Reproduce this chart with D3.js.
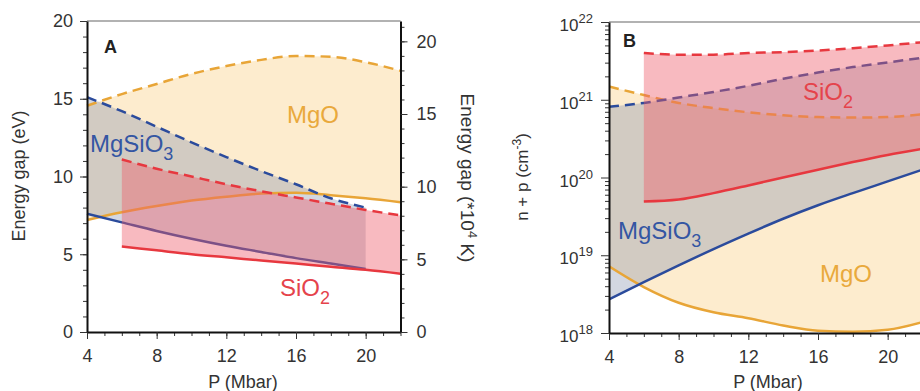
<!DOCTYPE html>
<html>
<head>
<meta charset="utf-8">
<script src="https://cdn.jsdelivr.net/npm/d3@7"></script>
<style>
  body { margin: 0; background: #fff; }
  svg { display: block; font-family: "Liberation Sans", Arial, Helvetica, sans-serif; }
  .tick text { fill: #333; }
</style>
</head>
<body>
<div id="chart"></div>
<script>
// pressure grid (Mbar)
const pFull = [4, 6, 8, 10, 12, 14, 16, 18, 20, 22];
const pMgSiO3A = [4, 6, 8, 10, 12, 14, 16, 18, 20];
const pSiO2 = [6, 8, 10, 12, 14, 16, 18, 20, 22];

// panel A, energy gap (eV)
const mgoGapHi = [14.55, 15.3, 15.95, 16.6, 17.1, 17.5, 17.75, 17.7, 17.35, 16.8];
const mgoGapLo = [7.2, 7.7, 8.1, 8.45, 8.7, 8.9, 8.95, 8.8, 8.6, 8.35];
const mgsGapHi = [15.1, 14.2, 13.2, 12.2, 11.25, 10.35, 9.5, 8.6, 8.0];
const mgsGapLo = [7.6, 7.05, 6.5, 6.0, 5.55, 5.15, 4.75, 4.4, 4.05];
const sioGapHi = [11.1, 10.5, 10.0, 9.5, 9.05, 8.65, 8.25, 7.85, 7.5];
const sioGapLo = [5.5, 5.25, 5.0, 4.8, 4.6, 4.4, 4.2, 4.0, 3.75];

// panel B, n + p (cm^-3)
const mgoNpHi = [1.48e21, 1.15e21, 9.1e20, 7.8e20, 6.9e20, 6.3e20, 6.0e20, 5.9e20, 6.0e20, 6.5e20];
const mgoNpLo = [7.2e18, 3.9e18, 2.45e18, 1.85e18, 1.55e18, 1.25e18, 1.07e18, 1.04e18, 1.1e18, 1.38e18];
const mgsNpHi = [8.1e20, 9.1e20, 1.07e21, 1.26e21, 1.51e21, 1.86e21, 2.24e21, 2.63e21, 3.02e21, 3.47e21];
const mgsNpLo = [2.7e18, 4.5e18, 7.4e18, 1.2e19, 1.9e19, 2.95e19, 4.4e19, 6.3e19, 8.9e19, 1.26e20];
const sioNpHi = [4.0e21, 3.8e21, 3.8e21, 4.0e21, 4.1e21, 4.3e21, 4.6e21, 5.0e21, 5.5e21];
const sioNpLo = [4.9e19, 5.2e19, 6.3e19, 7.9e19, 1.0e20, 1.26e20, 1.58e20, 1.95e20, 2.34e20];

// axis ticks
const xMajor = [4, 8, 12, 16, 20];
const xMinor = d3.range(4, 23, 1);
const gapMajor = [0, 5, 10, 15, 20];
const gapMinor = d3.range(0, 21, 1);
const kelvinMajor = [0, 5, 10, 15, 20];
const kelvinMinor = d3.range(0, 22, 1);
const npMajor = [18, 19, 20, 21, 22];

const C = {
  mgo: '#e8a537', mgoFill: '#fbd592',
  mgs: '#2b4b9c', mgsFill: '#8c97b0',
  sio: '#e7383f', sioFill: '#ee5a6a',
  text: { mgo: '#e9a93c', mgs: '#3456a3', sio: '#e5434b' }
};

const svg = d3.select('#chart').append('svg')
  .attr('width', 920)
  .attr('height', 391);

svg.append('defs').append('clipPath').attr('id', 'clipB')
  .append('rect').attr('x', 609).attr('y', 0).attr('width', 320).attr('height', 334);

function zip(xs, ys) { return xs.map((x, i) => [x, ys[i]]); }

function drawBand(g, x, y, xs, lo, hi, fill, op) {
  const area = d3.area()
    .x(d => x(d[0])).y0(d => y(d[1])).y1(d => y(d[2]))
    .curve(d3.curveMonotoneX);
  g.append('path')
    .datum(xs.map((v, i) => [v, lo[i], hi[i]]))
    .attr('fill', fill).attr('fill-opacity', op)
    .attr('d', area);
}

function drawLine(g, x, y, xs, ys, color, dashed) {
  const line = d3.line().x(d => x(d[0])).y(d => y(d[1])).curve(d3.curveMonotoneX);
  g.append('path')
    .datum(zip(xs, ys))
    .attr('fill', 'none')
    .attr('stroke', color)
    .attr('stroke-width', 2.5)
    .attr('stroke-dasharray', dashed ? '10,6' : null)
    .attr('d', line);
}

function label(g, px, py, main, sub, color) {
  const t = g.append('text').attr('x', px).attr('y', py)
    .attr('fill', color).style('font-size', '24px');
  t.append('tspan').text(main);
  if (sub) t.append('tspan').attr('dy', 8).style('font-size', '18px').text(sub);
}

// axis = minor ticks (no labels) + major ticks, each in its own group
function axis(parent, tf, axisFn, scale, major, minor, opts) {
  const g = parent.append('g').attr('transform', tf);
  g.append('g').call(axisFn(scale).tickValues(minor).tickSize(4).tickFormat('').tickSizeOuter(0))
    .call(s => s.select('.domain').remove());
  const a = axisFn(scale).tickValues(major).tickSize(opts.size || 7)
    .tickPadding(opts.pad || 8).tickSizeOuter(0);
  if (opts.noLabels) a.tickFormat('');
  g.append('g').call(a)
    .call(s => s.select('.domain').attr('stroke', '#111').attr('stroke-width', 2));
  g.selectAll('.tick line').attr('stroke', '#333');
  g.selectAll('.tick text').style('font-size', '18px');
  return g;
}

// ---------- Panel A ----------
const xA = d3.scaleLinear().domain([4, 22]).range([87, 400.5]);
const yA = d3.scaleLinear().domain([0, 20]).range([332, 21]);
const yK = d3.scaleLinear().domain([0, 21.4]).range([332, 21]);

const gA = svg.append('g');
drawBand(gA, xA, yA, pFull, mgoGapLo, mgoGapHi, C.mgoFill, 0.45);
drawBand(gA, xA, yA, pMgSiO3A, mgsGapLo, mgsGapHi, C.mgsFill, 0.38);
drawLine(gA, xA, yA, pFull, mgoGapHi, C.mgo, true);
drawLine(gA, xA, yA, pFull, mgoGapLo, C.mgo, false);
drawLine(gA, xA, yA, pMgSiO3A, mgsGapHi, C.mgs, true);
drawLine(gA, xA, yA, pMgSiO3A, mgsGapLo, C.mgs, false);
drawBand(gA, xA, yA, pSiO2, sioGapLo, sioGapHi, C.sioFill, 0.42);
drawLine(gA, xA, yA, pSiO2, sioGapHi, C.sio, true);
drawLine(gA, xA, yA, pSiO2, sioGapLo, C.sio, false);

gA.append('line').attr('x1', 87).attr('x2', 400.5).attr('y1', 21).attr('y2', 21)
  .attr('stroke', '#666').attr('stroke-width', 1.2);

axis(gA, 'translate(0,332)', d3.axisBottom, xA, xMajor, xMinor, { pad: 10 });
axis(gA, 'translate(87,0)', d3.axisLeft, yA, gapMajor, gapMinor, { pad: 7 });
axis(gA, 'translate(400.5,0)', d3.axisRight, yK, kelvinMajor, kelvinMinor, { pad: 9 });

gA.append('text').attr('x', 104).attr('y', 53).style('font-size', '18px')
  .style('font-weight', 'bold').attr('fill', '#222').text('A');
label(gA, 287, 123, 'MgO', null, C.text.mgo);
label(gA, 90, 152, 'MgSiO', '3', C.text.mgs);
label(gA, 280, 296, 'SiO', '2', C.text.sio);

gA.append('text').attr('transform', 'translate(25,176) rotate(-90)')
  .attr('text-anchor', 'middle').style('font-size', '18px').attr('fill', '#333')
  .text('Energy gap (eV)');
const tK = gA.append('text').attr('transform', 'translate(461,178) rotate(90)')
  .attr('text-anchor', 'middle').style('font-size', '19px').attr('fill', '#333');
tK.append('tspan').text('Energy gap (*10');
tK.append('tspan').attr('dy', -7).style('font-size', '13px').text('4');
tK.append('tspan').attr('dy', 7).text(' K)');
gA.append('text').attr('x', 243).attr('y', 388).attr('text-anchor', 'middle')
  .style('font-size', '18px').attr('fill', '#333').text('P (Mbar)');

// ---------- Panel B ----------
const xB = d3.scaleLinear().domain([4, 22]).range([609, 922.5]);
const yB = d3.scaleLog().domain([1e18, 1e22]).range([333, 22]);

const gB = svg.append('g');
const pB = gB.append('g').attr('clip-path', 'url(#clipB)');
drawBand(pB, xB, yB, pFull, mgoNpLo, mgoNpHi, C.mgoFill, 0.45);
drawBand(pB, xB, yB, pFull, mgsNpLo, mgsNpHi, C.mgsFill, 0.38);
drawLine(pB, xB, yB, pFull, mgoNpHi, C.mgo, true);
drawLine(pB, xB, yB, pFull, mgoNpLo, C.mgo, false);
drawLine(pB, xB, yB, pFull, mgsNpHi, C.mgs, true);
drawLine(pB, xB, yB, pFull, mgsNpLo, C.mgs, false);
drawBand(pB, xB, yB, pSiO2, sioNpLo, sioNpHi, C.sioFill, 0.42);
drawLine(pB, xB, yB, pSiO2, sioNpHi, C.sio, true);
drawLine(pB, xB, yB, pSiO2, sioNpLo, C.sio, false);

gB.append('line').attr('x1', 609).attr('x2', 920).attr('y1', 22).attr('y2', 22)
  .attr('stroke', '#666').attr('stroke-width', 1.2);

axis(gB, 'translate(0,333)', d3.axisBottom, xB, xMajor, xMinor.filter(v => v < 22), { pad: 10 });

const npMinor = [];
npMajor.slice(0, -1).forEach(e => { for (let k = 2; k < 10; k++) npMinor.push(k * Math.pow(10, e)); });
axis(gB, 'translate(609,0)', d3.axisLeft, yB, npMajor.map(e => Math.pow(10, e)), npMinor,
  { size: 8, noLabels: true });

npMajor.forEach(e => {
  const t = gB.append('text').attr('x', 593).attr('y', yB(Math.pow(10, e)) + 9)
    .attr('text-anchor', 'end').style('font-size', '17px').attr('fill', '#333');
  t.append('tspan').text('10');
  t.append('tspan').attr('dy', -8).style('font-size', '13px').text(e);
});

gB.append('text').attr('x', 623).attr('y', 47).style('font-size', '18px')
  .style('font-weight', 'bold').attr('fill', '#222').text('B');
label(gB, 803, 100, 'SiO', '2', C.text.sio);
label(gB, 618, 239, 'MgSiO', '3', C.text.mgs);
label(gB, 820, 282, 'MgO', null, C.text.mgo);

const tN = gB.append('text').attr('transform', 'translate(528,177) rotate(-90)')
  .attr('text-anchor', 'middle').style('font-size', '17px').attr('fill', '#333');
tN.append('tspan').text('n + p (cm');
tN.append('tspan').attr('dy', -7).style('font-size', '12px').text('-3');
tN.append('tspan').attr('dy', 7).text(')');
gB.append('text').attr('x', 768).attr('y', 388).attr('text-anchor', 'middle')
  .style('font-size', '18px').attr('fill', '#333').text('P (Mbar)');
</script>
</body>
</html>
